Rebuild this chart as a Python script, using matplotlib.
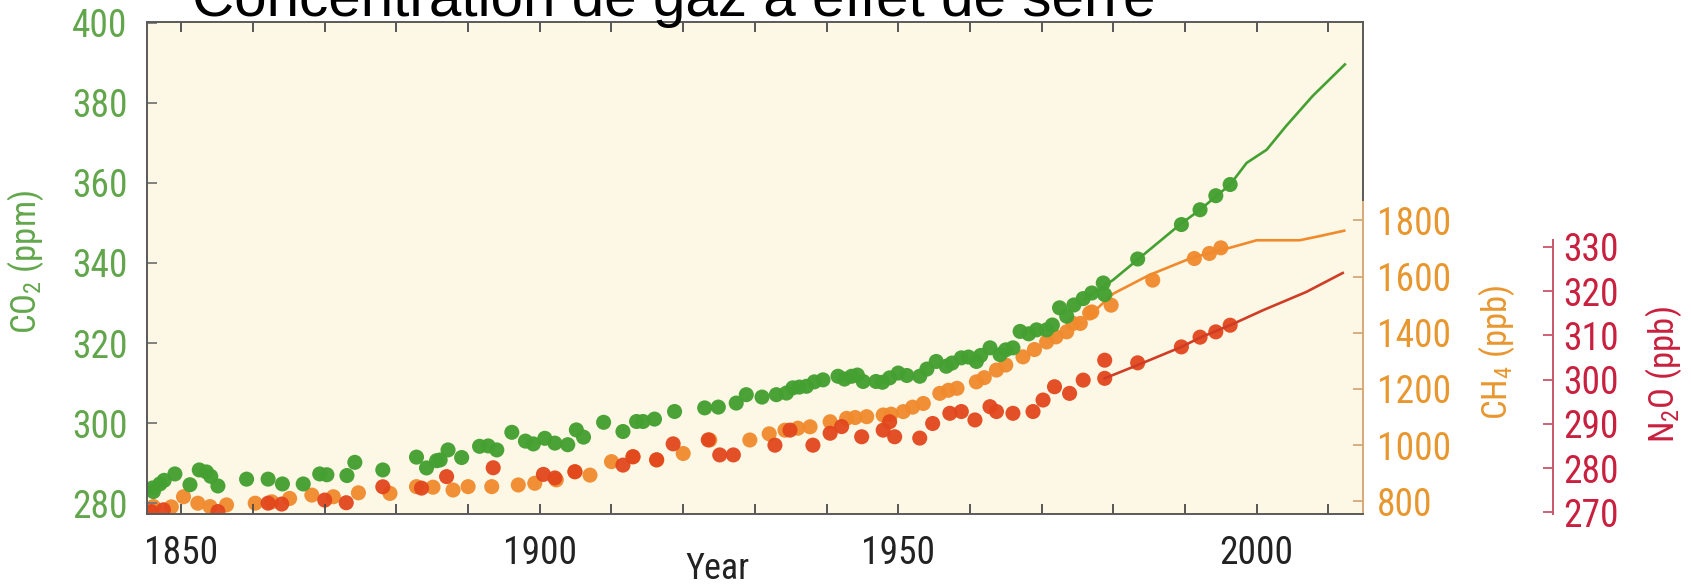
import matplotlib
matplotlib.use("Agg")
import matplotlib.pyplot as plt
from matplotlib import font_manager
from matplotlib.ticker import FixedLocator, MultipleLocator

# --- CO2 (ppm): ice-core / firn points and the instrumental curve ---
co2_years = [1846.0, 1846.1, 1847.0, 1847.6, 1849.1, 1851.2, 1852.5, 1853.5, 1854.1,
             1855.1, 1859.1, 1862.1, 1864.1, 1867.0, 1869.3, 1870.3, 1873.1, 1874.2,
             1878.1, 1882.8, 1884.2, 1885.6, 1886.1, 1887.2, 1889.1, 1891.6, 1892.8,
             1894.0, 1896.1, 1898.0, 1899.1, 1900.7, 1902.1, 1903.9, 1905.1, 1906.1,
             1908.9, 1911.6, 1913.5, 1914.4, 1916.0, 1918.8, 1923.0, 1924.9, 1927.4,
             1928.8, 1931.0, 1933.0, 1934.4, 1935.3, 1936.2, 1937.2, 1938.3, 1939.5,
             1941.6, 1942.5, 1943.5, 1944.3, 1945.1, 1946.9, 1947.8, 1948.8, 1950.0,
             1951.2, 1953.0, 1954.0, 1955.3, 1956.7, 1957.5, 1958.8, 1959.8, 1960.9,
             1961.5, 1962.8, 1964.2, 1965.0, 1966.0, 1967.0, 1968.2, 1969.3, 1970.7,
             1971.5, 1972.5, 1973.5, 1974.5, 1975.8, 1977.0, 1978.6, 1978.8, 1983.4,
             1989.5, 1992.1, 1994.3, 1996.3]
co2_ppm = [283.8, 282.9, 284.8, 285.7, 287.3, 284.6, 288.3, 287.8, 286.7,
           284.3, 286.0, 286.0, 284.8, 284.8, 287.3, 287.1, 286.9, 290.2,
           288.3, 291.5, 288.8, 290.6, 290.8, 293.3, 291.4, 294.2, 294.3,
           293.3, 297.7, 295.5, 294.8, 296.2, 295.0, 294.6, 298.3, 296.5,
           300.2, 297.9, 300.4, 300.4, 301.0, 302.9, 303.8, 304.0, 305.0,
           307.1, 306.5, 307.1, 307.5, 308.8, 309.0, 309.2, 310.3, 310.8,
           311.7, 311.0, 311.7, 312.0, 310.4, 310.4, 310.2, 311.3, 312.5,
           311.9, 311.7, 313.5, 315.4, 314.2, 315.0, 316.3, 316.5, 315.4,
           316.9, 318.8, 317.1, 318.3, 318.8, 322.9, 322.3, 323.3, 323.3,
           324.5, 328.8, 326.7, 329.5, 331.1, 332.5, 335.0, 332.1, 341.0,
           349.6, 353.3, 356.8, 359.6]
co2_line_years = [1976.0, 1980.0, 1983.7, 1989.3, 1992.1, 1996.3, 1998.6, 2001.4,
                  2004.1, 2007.8, 2012.3]
co2_line_ppm = [331.0, 335.8, 341.3, 349.6, 353.3, 359.6, 365.0, 368.3,
                374.2, 381.7, 389.6]

# --- CH4 (ppb) ---
ch4_years = [1846.1, 1848.6, 1850.3, 1852.3, 1854.0, 1856.3, 1860.3, 1862.6, 1865.1,
             1868.2, 1871.2, 1874.7, 1879.1, 1882.8, 1885.1, 1887.9, 1890.0, 1893.3,
             1897.0, 1899.3, 1902.3, 1904.9, 1907.0, 1910.0, 1913.0, 1916.3, 1920.0,
             1923.7, 1929.3, 1932.0, 1934.2, 1936.0, 1937.7, 1940.5, 1942.8, 1944.0,
             1945.6, 1947.9, 1949.0, 1950.7, 1952.0, 1953.5, 1955.8, 1957.0, 1958.2,
             1960.9, 1962.0, 1963.7, 1965.0, 1967.4, 1969.0, 1970.7, 1972.0, 1973.5,
             1974.4, 1975.4, 1976.7, 1977.0, 1979.7, 1985.5, 1991.3, 1993.4, 1995.0]
ch4_ppb = [781, 780, 816, 793, 781, 787, 793, 798, 810,
           822, 816, 830, 828, 852, 850, 840, 852, 852,
           858, 864, 876, 905, 893, 941, 958, 947, 970,
           1018, 1018, 1040, 1053, 1060, 1065, 1083, 1095, 1098,
           1101, 1107, 1110, 1119, 1135, 1148, 1184, 1195, 1202,
           1225, 1240, 1267, 1285, 1314, 1340, 1367, 1385, 1403,
           1433, 1433, 1470, 1474, 1498, 1587, 1664, 1682, 1702]
ch4_line_years = [1977.5, 1980.0, 1985.0, 1991.0, 1996.5, 2000.0, 2006.0, 2009.0, 2012.2]
ch4_line_ppb = [1480, 1539, 1605, 1667, 1704, 1729, 1729, 1745, 1763]

# --- N2O (ppb) ---
n2o_years = [1845.8, 1847.5, 1855.1, 1862.1, 1864.0, 1870.0, 1873.0, 1878.1, 1883.5,
             1887.0, 1893.5, 1900.5, 1902.1, 1904.9, 1911.6, 1913.0, 1916.3, 1918.6,
             1923.5, 1925.1, 1927.0, 1932.8, 1934.9, 1938.1, 1940.5, 1942.1, 1944.9,
             1947.9, 1948.8, 1949.5, 1953.0, 1954.8, 1957.2, 1958.8, 1960.7, 1962.8,
             1963.7, 1966.0, 1968.8, 1970.2, 1971.8, 1973.9, 1975.8, 1978.8, 1978.8,
             1983.4, 1989.5, 1992.1, 1994.3, 1996.3]
n2o_ppb = [270.2, 270.6, 270.2, 272.1, 271.9, 272.8, 272.2, 275.8, 275.5,
           278.1, 280.1, 278.6, 277.8, 279.2, 280.7, 282.6, 281.9, 285.5,
           286.4, 283.0, 283.0, 285.2, 288.6, 285.2, 287.9, 289.4, 287.1,
           288.6, 290.5, 287.1, 286.8, 290.1, 292.4, 292.8, 290.9, 293.9,
           292.8, 292.4, 292.8, 295.4, 298.4, 296.9, 299.9, 304.4, 300.3,
           303.8, 307.4, 309.6, 310.8, 312.3]
n2o_line_years = [1978.8, 1983.4, 1989.5, 1992.1, 1996.3, 2000.9, 2006.9, 2012.0]
n2o_line_ppb = [300.3, 303.3, 307.4, 309.5, 312.3, 315.7, 319.8, 324.1]

x_major = [1850, 1900, 1950, 2000]
co2_ticks = [280, 300, 320, 340, 360, 380, 400]
ch4_ticks = [800, 1000, 1200, 1400, 1600, 1800]
n2o_ticks = [270, 280, 290, 300, 310, 320, 330]

GREEN = "#45a032"
GREEN_TXT = "#62a64c"
ORANGE = "#f08a2c"
ORANGE_TXT = "#e8972f"
RED = "#e2461c"
RED_LINE = "#cf3d25"
CRIMSON = "#c8203e"
CREAM = "#fdf8e6"

names = {f.name for f in font_manager.fontManager.ttflist}
narrow = "DejaVu Sans"
for cand in ("Liberation Sans Narrow", "Roboto Condensed", "Open Sans Condensed",
             "Noto Sans Condensed"):
    if cand in names:
        narrow = cand
        break
plt.rcParams["font.family"] = [narrow]
plt.rcParams["font.stretch"] = "condensed"
plt.rcParams["mathtext.fontset"] = "custom"
plt.rcParams["mathtext.rm"] = narrow
plt.rcParams["mathtext.it"] = narrow

fig = plt.figure(figsize=(16.91, 5.88), dpi=100)
ax = fig.add_axes([0.0869, 0.1259, 0.7190, 0.8367])
ax_ch4 = ax.twinx()
ax_n2o = ax.twinx()

# background lives on the lowest axes so CO2 points sit on top
ax_ch4.set_zorder(1)
ax_ch4.patch.set_visible(True)
ax_ch4.patch.set_facecolor(CREAM)
ax_n2o.set_zorder(2)
ax.set_zorder(3)
ax.patch.set_visible(False)

pt = 118
ax_ch4.plot(ch4_line_years, ch4_line_ppb, color=ORANGE, lw=1.9)
ax_ch4.scatter(ch4_years, ch4_ppb, s=pt, color=ORANGE, edgecolors="none", alpha=0.95)
ax_n2o.plot(n2o_line_years, n2o_line_ppb, color=RED_LINE, lw=1.9)
ax_n2o.scatter(n2o_years, n2o_ppb, s=pt, color=RED, edgecolors="none", alpha=0.95)
ax.plot(co2_line_years, co2_line_ppm, color=GREEN, lw=1.9)
ax.scatter(co2_years, co2_ppm, s=pt, color=GREEN, edgecolors="none", alpha=0.97)

ax.set_xlim(1845.2, 2014.8)
ax.set_ylim(277.3, 400.2)
ax_ch4.set_ylim(754.7, 2506)
ax_n2o.set_ylim(269.66, 380.8)

# host frame
for side in ("left", "top", "bottom", "right"):
    ax.spines[side].set_color("#5a5a5a")
    ax.spines[side].set_linewidth(1.4)
ax.spines["right"].set_bounds(355.8, 400.2)
ax.xaxis.set_major_locator(FixedLocator(x_major))
ax.xaxis.set_minor_locator(MultipleLocator(10))
ax.tick_params(axis="x", which="both", direction="in", length=7, width=1.3,
               top=True, color="#4a4a4a", labelsize=27, labelcolor="#222222", pad=15)
ax.set_yticks(co2_ticks)
ax.tick_params(axis="y", direction="in", length=7, width=1.3, color="#777777",
               labelcolor=GREEN_TXT, labelsize=27, pad=14)

# CH4 axis shares the right edge
for side in ("left", "top", "bottom"):
    ax_ch4.spines[side].set_visible(False)
    ax_n2o.spines[side].set_visible(False)
ax_ch4.spines["right"].set_color("#d9a877")
ax_ch4.spines["right"].set_linewidth(1.4)
ax_ch4.spines["right"].set_bounds(754.7, 1871)
ax_ch4.set_yticks(ch4_ticks)
ax_ch4.tick_params(axis="y", direction="in", length=7, width=1.3, color="#d9a877",
                   labelcolor=ORANGE_TXT, labelsize=27, pad=10)

# N2O axis offset to the right
ax_n2o.spines["right"].set_position(("axes", 1.1566))
ax_n2o.spines["right"].set_color("#c9566a")
ax_n2o.spines["right"].set_linewidth(1.4)
ax_n2o.spines["right"].set_bounds(269.66, 331.6)
ax_n2o.set_yticks(n2o_ticks)
ax_n2o.tick_params(axis="y", direction="in", length=7, width=1.3, color="#c9566a",
                   labelcolor=CRIMSON, labelsize=27, pad=7)

W, H = 1691, 588
fig.text(26 / W, 1 - 262 / H, r"CO$_2$ (ppm)", rotation=90, ha="center", va="center",
         color=GREEN_TXT, fontsize=25)
fig.text(1497 / W, 1 - 352 / H, r"CH$_4$ (ppb)", rotation=90, ha="center", va="center",
         color=ORANGE_TXT, fontsize=25)
fig.text(1664 / W, 1 - 375 / H, r"N$_2$O (ppb)", rotation=90, ha="center", va="center",
         color=CRIMSON, fontsize=25)
fig.text(717 / W, 1 - 569 / H, "Year", ha="center", va="center", color="#222222",
         fontsize=26)
fig.text(674 / W, 1 - 16 / H, "Concentration de gaz à effet de serre", ha="center",
         va="baseline", color="black", fontsize=42, family="Liberation Sans",
         stretch="normal")

fig.savefig("out.png", dpi=100, facecolor="white")
